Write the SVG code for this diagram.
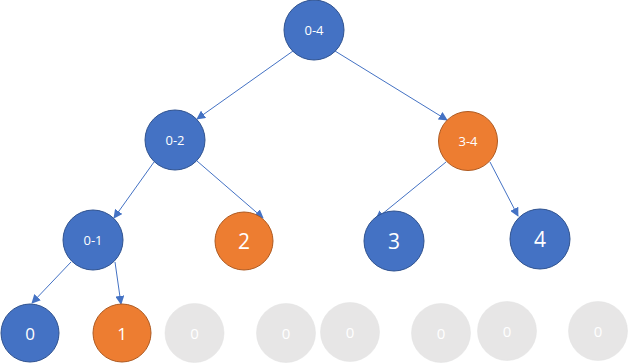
<svg xmlns="http://www.w3.org/2000/svg" width="628" height="363" viewBox="0 0 628 363">
<style>
.b{fill:#4472C4;stroke:#2F528F;stroke-width:1}
.o{fill:#ED7D31;stroke:#AE5A21;stroke-width:1}
.g{fill:#E7E6E6;stroke:#E0E0E0;stroke-width:0.5}
text{fill:#fff;font-family:"Open Sans","Noto Sans",sans-serif;text-anchor:middle;dominant-baseline:central}
.s{font-size:13px}.m{font-size:17px}.l{font-size:21px}.z{font-size:15px}
.e{stroke:#4472C4;stroke-width:1;fill:none;marker-end:url(#ah)}
</style>
<defs>
<marker id="ah" viewBox="0 0 10 10" refX="9" refY="5" markerWidth="9" markerHeight="9" markerUnits="userSpaceOnUse" orient="auto">
<path d="M0,0 L10,5 L0,10 z" fill="#4472C4"/>
</marker>
</defs>
<g id="connectors">
<line class="e" x1="293" y1="51" x2="197" y2="119"/>
<line class="e" x1="335" y1="51" x2="447" y2="120"/>
<line class="e" x1="197" y1="161" x2="263" y2="218"/>
<line class="e" x1="154" y1="162" x2="114" y2="218"/>
<line class="e" x1="446" y1="162" x2="376" y2="219"/>
<line class="e" x1="490" y1="162" x2="518" y2="216"/>
<line class="e" x1="71" y1="262" x2="32" y2="303"/>
<line class="e" x1="115" y1="262" x2="121" y2="304"/>
</g>
<g id="n04"><circle class="b" cx="314" cy="30" r="30"/><text class="s" x="314" y="30">0-4</text></g>
<g id="n02"><circle class="b" cx="175" cy="140" r="30"/><text class="s" x="175" y="140">0-2</text></g>
<g id="n34"><circle class="o" cx="468" cy="141" r="29.5"/><text class="s" x="468" y="141">3-4</text></g>
<g id="n01"><circle class="b" cx="93" cy="240" r="30"/><text class="s" x="93" y="240">0-1</text></g>
<g id="n2"><circle class="o" cx="244" cy="241" r="29"/><text class="l" x="244" y="241">2</text></g>
<g id="n3"><circle class="b" cx="394" cy="241" r="30"/><text class="l" x="394" y="241">3</text></g>
<g id="n4"><circle class="b" cx="540" cy="239" r="30"/><text class="l" x="540" y="239">4</text></g>
<g id="n0"><circle class="b" cx="30" cy="333" r="29"/><text class="m" x="30" y="333">0</text></g>
<g id="n1"><circle class="o" cx="122" cy="333" r="29"/><text class="m" x="122" y="333">1</text></g>
<g id="g1"><circle class="g" cx="194.5" cy="333" r="29.5"/><text class="z" x="194.5" y="333">0</text></g>
<g id="g2"><circle class="g" cx="286" cy="333" r="29.5"/><text class="z" x="286" y="333">0</text></g>
<g id="g3"><circle class="g" cx="350" cy="332" r="29.5"/><text class="z" x="350" y="332">0</text></g>
<g id="g4"><circle class="g" cx="441" cy="333" r="29.5"/><text class="z" x="441" y="333">0</text></g>
<g id="g5"><circle class="g" cx="507" cy="331" r="29.5"/><text class="z" x="507" y="331">0</text></g>
<g id="g6"><circle class="g" cx="598" cy="331" r="29.5"/><text class="z" x="598" y="331">0</text></g>
</svg>
